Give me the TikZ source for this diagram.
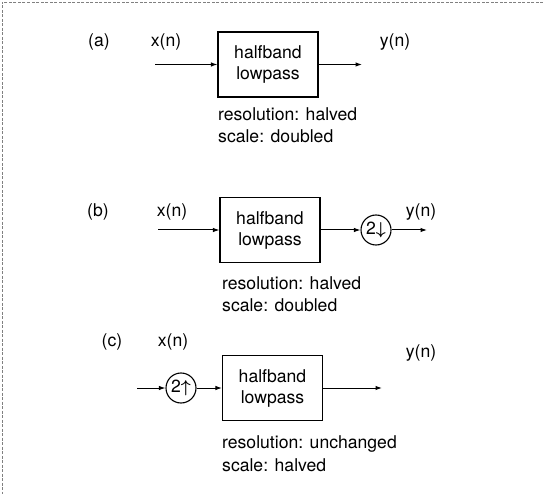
\documentclass[tikz,border=0pt]{standalone}
\usepackage{fontspec}
\usepackage{amsmath}
\setmainfont{TeX Gyre Heros}
\usetikzlibrary{arrows.meta}
\begin{document}
\begin{tikzpicture}[x=1pt,y=-1pt,
  blk/.style={draw, line width=1.1pt, minimum width=100pt, minimum height=65pt, align=center, font=\fontsize{17.6}{21}\selectfont},
  sig/.style={font=\fontsize{17.6}{20}\selectfont, inner sep=0pt},
  note/.style={font=\fontsize{17.6}{20}\selectfont, anchor=base west, inner sep=0pt},
  ring/.style={draw, circle, line width=1.1pt, minimum size=30pt, inner sep=0pt, font=\fontsize{17.6}{20}\selectfont},
  flow/.style={-{Latex[length=6.5pt,width=4.5pt]}, line width=1pt}]
\useasboundingbox (0,0) rectangle (543,494);
\draw[gray, dash pattern=on 3pt off 1.5pt, line width=0.5pt] (543,2) -- (2,2) -- (2,494);
% (a)
\node[sig] (la) at (99,42) {(a)};
\node[sig] (xa) at (166,42) {x(n)};
\node[blk] (ba) at (268,64.5) {halfband\\lowpass};
\coordinate (ia) at (155,64.5);
\coordinate (oa) at (362,64.5);
\draw[flow] (ia) -- (ba);
\draw[flow] (ba) -- (oa);
\node[sig] (ya) at (395,42) {y(n)};
\node[note] (na1) at (218,121) {resolution: halved};
\node[note] (na2) at (218,143) {scale: doubled};
% (b)
\node[sig] (lb) at (98,212) {(b)};
\node[sig] (xb) at (172,212) {x(n)};
\node[blk] (bb) at (270,230) {halfband\\lowpass};
\coordinate (ib) at (158,230);
\node[ring] (db) at (376,230) {2$\boldsymbol{\downarrow}$};
\coordinate (ob) at (427,230);
\draw[flow] (ib) -- (bb);
\draw[flow] (bb) -- (db);
\draw[flow] (db) -- (ob);
\node[sig] (yb) at (421,212) {y(n)};
\node[note] (nb1) at (222,289) {resolution: halved};
\node[note] (nb2) at (222,311) {scale: doubled};
% (c)
\node[sig] (lc) at (112,342) {(c)};
\node[sig] (xc) at (173,342) {x(n)};
\coordinate (ic) at (137,388);
\node[ring] (uc) at (181,388) {2$\boldsymbol{\uparrow}$};
\node[blk] (bc) at (272.5,388) {halfband\\lowpass};
\coordinate (oc) at (382,388);
\draw[flow] (ic) -- (uc);
\draw[flow] (uc) -- (bc);
\draw[flow] (bc) -- (oc);
\node[sig] (yc) at (421,353) {y(n)};
\node[note] (nc1) at (222,448) {resolution: unchanged};
\node[note] (nc2) at (222,471) {scale: halved};
\end{tikzpicture}
\end{document}
